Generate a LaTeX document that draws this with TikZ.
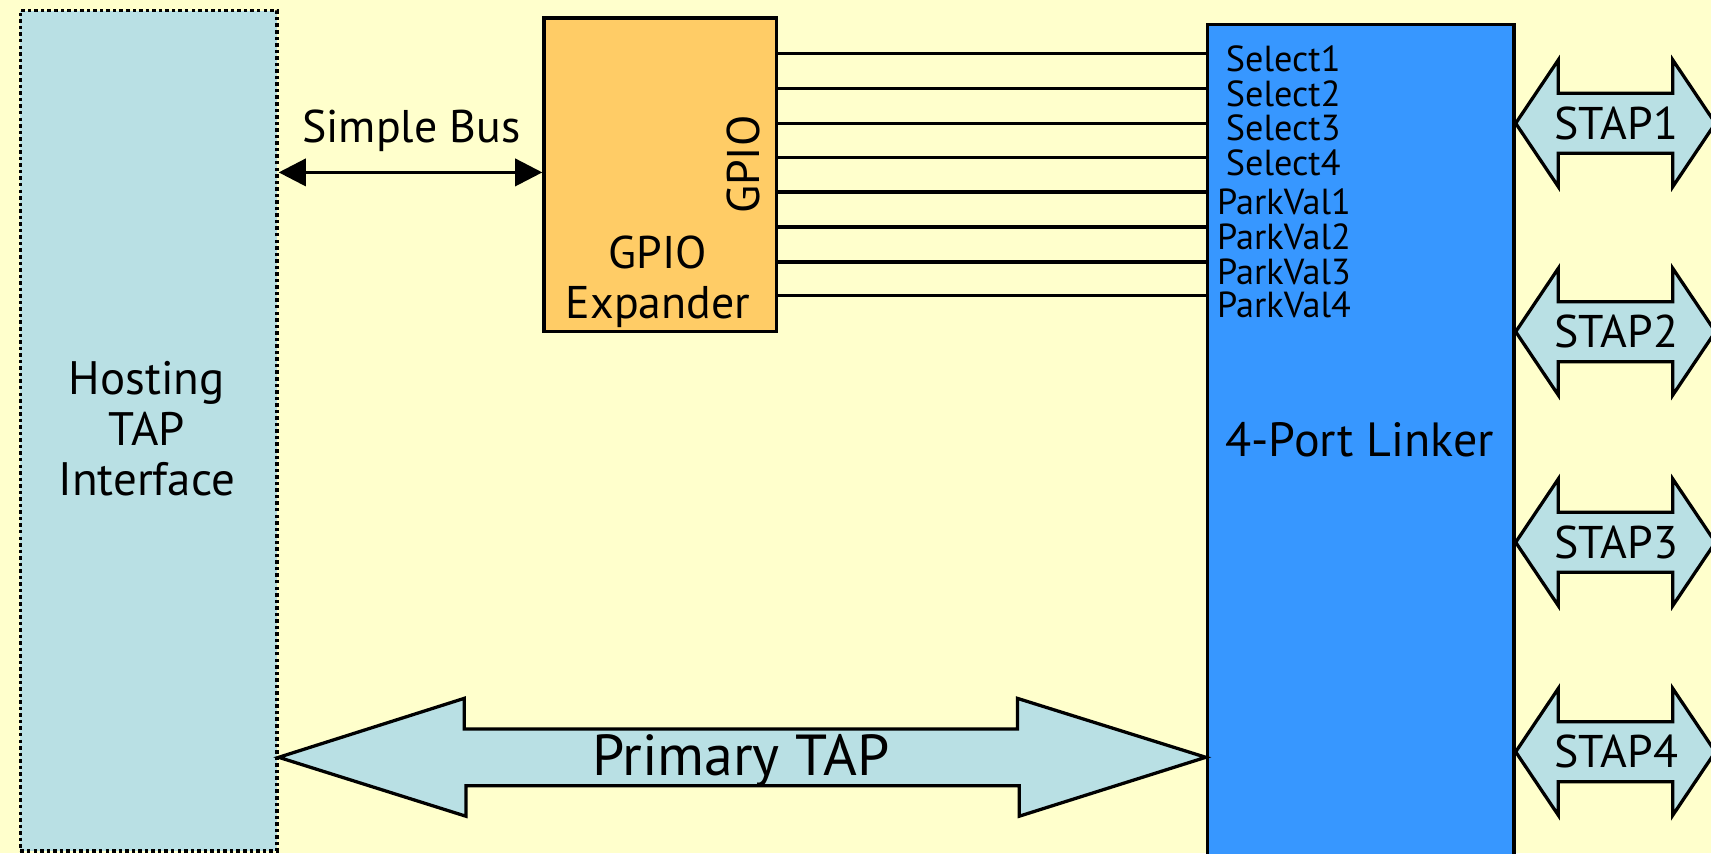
\documentclass[tikz,border=0pt]{standalone}
\usepackage{fontspec}
\setmainfont{PT Sans}
\usetikzlibrary{arrows.meta}
\definecolor{bg}{HTML}{FFFFCC}
\definecolor{hostc}{HTML}{B9E0E4}
\definecolor{gpioc}{HTML}{FFCC66}
\definecolor{linkc}{HTML}{3797FF}
\begin{document}
\begin{tikzpicture}[x=0.5pt,y=-0.5pt,
  box/.style={draw=black, line width=1.5pt, inner sep=0pt, anchor=north west},
  sig/.style={line width=1.5pt},
  blk/.style={draw=black, fill=hostc, line width=1.5pt, miter limit=10},
  lbl/.style={font=\fontsize{21}{23}\selectfont, inner sep=0pt},
  big/.style={font=\fontsize{26.5}{28}\selectfont, inner sep=0pt},
  stap/.style={font=\fontsize{21}{23}\selectfont, inner sep=0pt, anchor=base},
  pin/.style={font=\fontsize{16.6}{17}\selectfont, inner sep=0pt, anchor=base west},
  busarrow/.style={line width=1.5pt, {Triangle[length=12.5pt,width=12.5pt]}-{Triangle[length=12.5pt,width=12.5pt]}}
]
\useasboundingbox (0,0) rectangle (1568,782);
\clip (0,0) rectangle (1568,782);
\fill[bg] (0,0) rectangle (1568,782);

% Hosting TAP Interface
\node[box, fill=hostc, line width=1.7pt, dash pattern=on 1.6pt off 1.4pt,
      minimum width=117.5pt, minimum height=385pt] (host) at (17,8) {};
\node[lbl, align=center, font=\fontsize{21.5}{23}\selectfont] (hostlbl) at (134.5,393)
  {Hosting\\[0.25pt]TAP\\[0.25pt]Interface};

% GPIO Expander
\node[box, fill=gpioc, minimum width=106.5pt, minimum height=143.5pt] (gpio) at (497,15) {};
\node[lbl, rotate=90] (gpiopin) at (681.5,151) {GPIO};
\node[lbl, anchor=base] (gpiot1) at (603,246) {GPIO};
\node[lbl, anchor=base] (gpiot2) at (603,292) {Expander};

% 4-Port Linker
\node[box, fill=linkc, minimum width=140.5pt, minimum height=400pt] (linker) at (1105,21) {};
\node[font=\fontsize{22}{24}\selectfont, inner sep=0pt, anchor=base] (linklbl) at (1246,418) {4-Port Linker};

% Simple Bus
\coordinate (sb) at (0,158);
\draw[busarrow] (host.east |- sb) -- (gpio.west |- sb);
\node[lbl, anchor=base] (sblbl) at (377,131) {Simple Bus};

% GPIO signals and pin labels
\foreach \n/\y/\by/\px/\t in {s1/49/65.5/1123/Select1, s2/81/97.5/1123/Select2,
    s3/113/129/1123/Select3, s4/144/161/1123/Select4,
    p1/176/196.5/1115/ParkVal1, p2/208/228.5/1115/ParkVal2,
    p3/240/260.5/1115/ParkVal3, p4/271/291/1115/ParkVal4}{
  \coordinate (\n) at (0,\y);
  \draw[sig] (gpio.east |- \n) -- (linker.west |- \n);
  \node[pin] (\n lbl) at (\px,\by) {\t};
}

% Primary TAP block arrow
\coordinate (ptc) at (0,694);
\draw[blk] (host.east |- ptc) -- ++(170,-54) -- ++(0,28) -- ++(507,0) -- ++(0,-28)
  -- (linker.west |- ptc) -- ++(-171,54) -- ++(0,-28) -- ++(-507,0) -- ++(0,28) -- cycle;
\node[big, anchor=base] (ptlbl) at (679,711) {Primary TAP};

% STAP block arrows
\foreach \k/\c in {1/113, 2/304, 3/497, 4/689}{
  \coordinate (st\k) at (0,\c);
  \draw[blk] (linker.east |- st\k) -- ++(39,-58) -- ++(0,30.5) -- ++(105,0) -- ++(0,-30.5)
    -- ++(39,58) -- ++(-39,58) -- ++(0,-30.5) -- ++(-105,0) -- ++(0,30.5) -- cycle;
  \node[stap] (stap\k) at (1481,\c+14.5) {STAP\k};
}
\end{tikzpicture}
\end{document}
